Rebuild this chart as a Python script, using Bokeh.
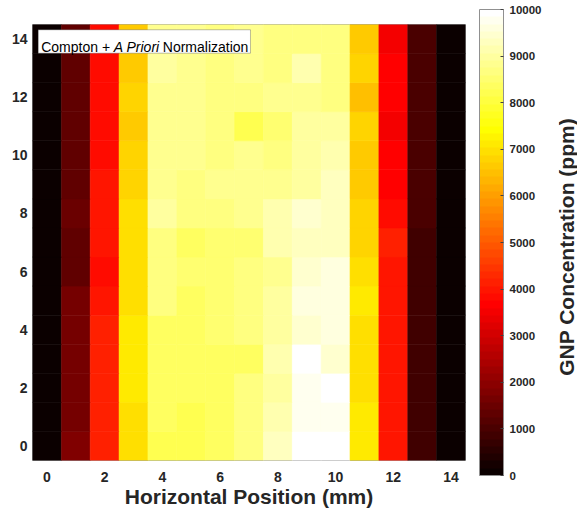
import numpy as np
from bokeh.plotting import figure
from bokeh.models import (ColumnDataSource, LinearColorMapper, FixedTicker, Label,
                          BoxAnnotation, Range1d, ColorBar)
from bokeh.layouts import row
from bokeh.transform import transform
from bokeh.embed import file_html
from bokeh.resources import INLINE

# ---------------- data ----------------
x_positions = list(range(15))          # horizontal position (mm)
y_positions = list(range(15))          # vertical position (mm), row 0 = bottom
# GNP concentration (ppm), one list per row (bottom row first), columns 0..14
ppm_row_00 = [90, 1800, 4200, 6950, 8200, 8200, 8300, 8700, 9300, 9950, 9950, 7100, 4000, 900, 80]
ppm_row_01 = [90, 1650, 4100, 7000, 8400, 8200, 8300, 8700, 9100, 9800, 9800, 7100, 4000, 900, 80]
ppm_row_02 = [90, 1650, 4100, 7100, 8400, 8300, 8400, 8700, 9000, 9800, 9990, 7000, 3950, 900, 80]
ppm_row_03 = [90, 1650, 4100, 7100, 8400, 8400, 8400, 8300, 9100, 9900, 9500, 6900, 3950, 900, 80]
ppm_row_04 = [90, 1650, 4100, 7100, 8400, 8400, 8500, 8600, 9000, 9400, 9600, 7000, 4000, 900, 80]
ppm_row_05 = [90, 1650, 4050, 6950, 8600, 8400, 8500, 8700, 9000, 9600, 9600, 7100, 3950, 900, 80]
ppm_row_06 = [90, 1400, 3900, 6950, 8700, 8500, 8500, 8700, 8800, 9500, 9600, 6950, 4000, 900, 80]
ppm_row_07 = [90, 1400, 4050, 6950, 8700, 8400, 8500, 8500, 9200, 9300, 9300, 6750, 4100, 900, 80]
ppm_row_08 = [90, 1500, 4050, 6900, 9000, 8700, 8700, 8800, 9100, 9400, 9300, 6800, 3750, 1000, 80]
ppm_row_09 = [90, 1400, 3950, 6800, 8900, 8700, 8800, 8800, 8800, 9000, 9300, 6600, 3600, 1000, 80]
ppm_row_10 = [90, 1300, 3900, 6800, 8900, 8800, 8600, 8800, 8600, 9000, 9200, 6700, 3700, 1000, 80]
ppm_row_11 = [90, 1250, 3900, 6600, 8900, 8800, 8700, 8200, 8500, 9000, 9000, 6750, 3550, 1000, 80]
ppm_row_12 = [90, 1250, 3900, 6800, 8900, 8800, 8700, 8700, 8800, 8800, 8600, 6450, 3700, 1000, 80]
ppm_row_13 = [90, 1250, 3850, 6600, 9000, 8800, 8600, 8900, 8600, 9100, 8700, 6800, 3600, 1000, 80]
ppm_row_14 = [90, 1250, 3850, 6700, 8900, 8800, 8600, 8800, 8600, 8700, 8700, 6600, 3550, 1000, 80]
ppm_rows = [ppm_row_00, ppm_row_01, ppm_row_02, ppm_row_03, ppm_row_04, ppm_row_05,
            ppm_row_06, ppm_row_07, ppm_row_08, ppm_row_09, ppm_row_10, ppm_row_11,
            ppm_row_12, ppm_row_13, ppm_row_14]

axis_ticks = [0, 2, 4, 6, 8, 10, 12, 14]
cbar_ticks = [0, 1000, 2000, 3000, 4000, 5000, 6000, 7000, 8000, 9000, 10000]
cbar_low, cbar_high = 0, 10000
x_label = "Horizontal Position (mm)"
cbar_label = "GNP Concentration (ppm)"

# ---------------- MATLAB "hot" colormap (64 levels) ----------------
def hot(m=64):
    n = int(3 / 8 * m)
    cols = []
    for k in range(1, m + 1):
        r = min(k / n, 1.0)
        g = min(max((k - n) / n, 0.0), 1.0)
        b = min(max((k - 2 * n) / (m - 2 * n), 0.0), 1.0)
        cols.append("#%02x%02x%02x" % (round(r * 255), round(g * 255), round(b * 255)))
    return cols

palette = hot(64)
mapper = LinearColorMapper(palette=palette, low=cbar_low, high=cbar_high)

xs, ys, vals = [], [], []
for yi, row_vals in zip(y_positions, ppm_rows):
    for xi, v in zip(x_positions, row_vals):
        xs.append(xi)
        ys.append(yi)
        vals.append(v)
src = ColumnDataSource(dict(x=xs, y=ys, ppm=vals))

FONT = "Liberation Sans"
TXT = "#262626"

# ---------------- main heat map ----------------
p = figure(width=558, height=510,
           x_range=Range1d(-0.5, 14.5), y_range=Range1d(-0.5, 14.5),
           output_backend="svg", toolbar_location=None,
           min_border_left=32, min_border_right=0, min_border_top=24, min_border_bottom=50)
p.rect(x="x", y="y", width=1, height=1, source=src,
       fill_color=transform("ppm", mapper), line_color=transform("ppm", mapper), line_width=0.6)

p.xgrid.visible = False
p.ygrid.visible = False
p.outline_line_color = "#a0a0a0"
p.background_fill_color = "white"
for ax in (p.xaxis[0], p.yaxis[0]):
    ax.ticker = FixedTicker(ticks=axis_ticks)
    ax.axis_line_color = None
    ax.major_tick_line_color = None
    ax.minor_tick_line_color = None
    ax.major_tick_out = 0
    ax.major_tick_in = 0
    ax.minor_tick_out = 0
    ax.major_label_text_font = FONT
    ax.major_label_text_font_style = "bold"
    ax.major_label_text_font_size = "14px"
    ax.major_label_text_color = TXT
p.yaxis.major_label_standoff = 5
p.xaxis.major_label_standoff = 11
p.xaxis.axis_label = x_label
p.xaxis.axis_label_text_font = FONT
p.xaxis.axis_label_text_font_style = "bold"
p.xaxis.axis_label_text_font_size = "21px"
p.xaxis.axis_label_text_color = TXT
p.xaxis.axis_label_standoff = 0

# legend-like annotation box
p.add_layout(BoxAnnotation(left=-0.303, right=7.051, bottom=13.513, top=14.318,
                           fill_color="white", fill_alpha=1.0,
                           line_color="#262626", line_width=1))
label_kw = dict(x=-0.5, y=13.743, text_baseline="alphabetic", text_font=FONT,
                text_font_size="14px", text_color="black")
p.add_layout(Label(text="Compton +", x_offset=8.7, **label_kw))
p.add_layout(Label(text="A Priori", x_offset=81.3, text_font_style="italic", **label_kw))
p.add_layout(Label(text="Normalization", x_offset=130.3, **label_kw))

# ---------------- colour bar ----------------
cb = ColorBar(color_mapper=mapper, ticker=FixedTicker(ticks=cbar_ticks),
              width=24, height=466, padding=14, margin=0, location="center",
              bar_line_color="#909090", border_line_color=None,
              background_fill_color=None,
              major_tick_in=3, major_tick_out=0, major_tick_line_color="#404040",
              minor_tick_line_color=None, label_standoff=6,
              major_label_text_font=FONT, major_label_text_font_style="bold",
              major_label_text_font_size="11.5px", major_label_text_color=TXT)
p.add_layout(cb, "right")

# colour bar title (reads bottom-to-top), drawn inside a narrow companion figure
p3 = figure(width=19, height=510, x_axis_location=None, y_axis_location=None,
            x_range=Range1d(0, 1), y_range=Range1d(0, 1),
            output_backend="svg", toolbar_location=None,
            min_border_left=0, min_border_right=0, min_border_top=24, min_border_bottom=50)
p3.outline_line_color = None
p3.xgrid.visible = False
p3.ygrid.visible = False
p3.add_layout(Label(x=0, y=0.49, x_offset=8, text=cbar_label, angle=np.pi / 2,
                    text_align="center", text_baseline="middle",
                    text_font=FONT, text_font_style="bold", text_font_size="21px",
                    text_color=TXT))

layout = row(p, p3, spacing=0)
open("out.html", "w").write(file_html(layout, INLINE))
